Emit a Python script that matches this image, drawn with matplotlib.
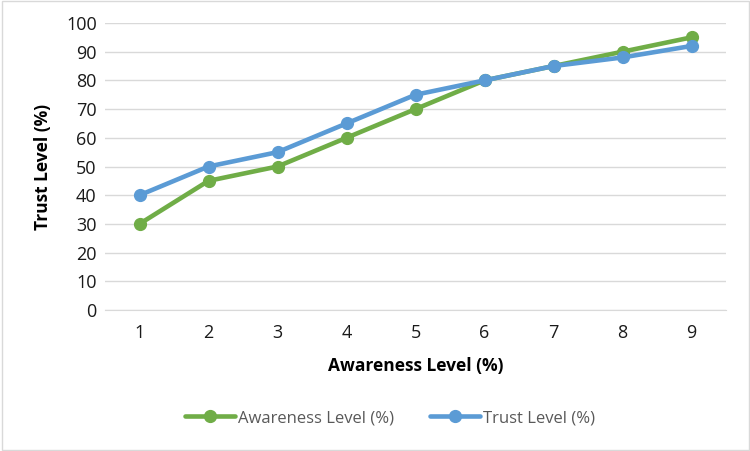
import matplotlib
matplotlib.use("Agg")
import matplotlib.pyplot as plt
from matplotlib.patches import Rectangle

categories = [1, 2, 3, 4, 5, 6, 7, 8, 9]
awareness = [30, 45, 50, 60, 70, 80, 85, 90, 95]
trust = [40, 50, 55, 65, 75, 80, 85, 88, 92]

GREEN = "#70AD47"
BLUE = "#5B9BD5"

plt.rcParams["font.family"] = ["Open Sans", "DejaVu Sans"]

fig = plt.figure(figsize=(7.5, 4.51), dpi=100)
ax = fig.add_axes([0.14, 0.3126, 0.828, 0.6364])

ax.plot(categories, awareness, color=GREEN, lw=3.3, marker="o", ms=8.5,
        label="Awareness Level (%)", zorder=3, solid_capstyle="round")
ax.plot(categories, trust, color=BLUE, lw=3.3, marker="o", ms=8.5,
        label="Trust Level (%)", zorder=4, solid_capstyle="round")

ax.set_xlim(0.5, 9.5)
ax.set_ylim(0, 100)
ax.set_yticks(range(0, 101, 10))
ax.set_xticks(categories)
ax.grid(axis="y", color="#d9d9d9", lw=1)
ax.set_axisbelow(True)
for s in ["top", "right", "left"]:
    ax.spines[s].set_visible(False)
ax.spines["bottom"].set_color("#d9d9d9")
ax.tick_params(length=0, labelsize=13, colors="#1a1a1a", pad=6)
ax.tick_params(axis="x", pad=10)

ax.set_xlabel("Awareness Level (%)", fontsize=12.5, fontweight="bold", labelpad=11)
ax.set_ylabel("Trust Level (%)", fontsize=12.5, fontweight="bold", labelpad=10)

fig.legend(loc="center", bbox_to_anchor=(0.52, 0.073), ncol=2, frameon=False,
           fontsize=12, handlelength=3.0, handletextpad=0.15, columnspacing=2.2,
           labelcolor="#595959")

fig.patches.append(Rectangle((0.002, 0.003), 0.996, 0.994, transform=fig.transFigure,
                             fill=False, edgecolor="#d9d9d9", lw=1))

fig.savefig("out.png", dpi=100)
